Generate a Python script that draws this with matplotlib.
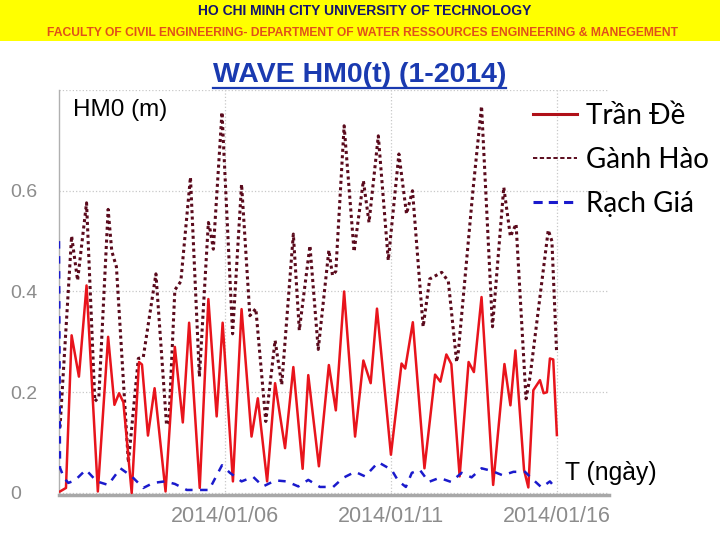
import matplotlib
matplotlib.use('Agg')
import matplotlib.pyplot as plt
import matplotlib.dates as mdates
from matplotlib.lines import Line2D
import pandas as pd

# days since 2014-01-01 00:00, wave height HM0 (m)
trande_day = [0.03, 0.21, 0.38, 0.60, 0.83, 1.17, 1.48, 1.67, 1.81, 1.94,
              2.19, 2.41, 2.50, 2.68, 2.88, 3.21, 3.49, 3.73, 3.92, 4.24,
              4.50, 4.75, 4.93, 5.24, 5.50, 5.80, 5.99, 6.27, 6.51, 6.81,
              7.06, 7.34, 7.51, 7.83, 8.13, 8.34, 8.59, 8.92, 9.17, 9.39,
              9.58, 10.00, 10.32, 10.43, 10.66, 11.01, 11.33, 11.49, 11.67, 11.82,
              12.07, 12.34, 12.50, 12.73, 13.08, 13.42, 13.60, 13.75, 14.01, 14.14,
              14.29, 14.49, 14.60, 14.70, 14.79, 14.89, 15.00]
trande_hm0 = [0.003, 0.01, 0.313, 0.231, 0.412, 0.003, 0.31, 0.175, 0.198, 0.18,
              0.0, 0.26, 0.255, 0.114, 0.208, 0.003, 0.29, 0.14, 0.338, 0.01,
              0.385, 0.152, 0.338, 0.023, 0.365, 0.112, 0.188, 0.023, 0.218, 0.089,
              0.25, 0.048, 0.234, 0.053, 0.254, 0.164, 0.40, 0.112, 0.263, 0.218,
              0.366, 0.076, 0.257, 0.247, 0.339, 0.049, 0.235, 0.221, 0.275, 0.256,
              0.033, 0.26, 0.24, 0.389, 0.016, 0.256, 0.174, 0.283, 0.046, 0.011,
              0.204, 0.224, 0.198, 0.20, 0.267, 0.265, 0.115]

ganhhao_day = [0.03, 0.38, 0.56, 0.83, 1.08, 1.20, 1.48, 1.59, 1.73, 2.09,
               2.39, 2.54, 2.92, 3.24, 3.31, 3.49, 3.67, 3.96, 4.23, 4.50,
               4.56, 4.65, 4.91, 5.23, 5.50, 5.75, 5.93, 6.23, 6.51, 6.71,
               7.06, 7.24, 7.56, 7.81, 8.13, 8.24, 8.34, 8.59, 8.89, 9.17,
               9.34, 9.62, 9.92, 10.24, 10.47, 10.65, 10.97, 11.17, 11.53, 11.73,
               11.98, 12.03, 12.47, 12.73, 13.06, 13.40, 13.60, 13.77, 14.07, 14.19,
               14.74, 14.85, 14.99]
ganhhao_hm0 = [0.13, 0.51, 0.422, 0.576, 0.182, 0.19, 0.563, 0.48, 0.449, 0.06,
               0.267, 0.27, 0.435, 0.135, 0.14, 0.403, 0.42, 0.627, 0.231, 0.537,
               0.52, 0.484, 0.756, 0.316, 0.613, 0.352, 0.366, 0.142, 0.303, 0.215,
               0.514, 0.323, 0.491, 0.285, 0.482, 0.432, 0.44, 0.729, 0.479, 0.62,
               0.537, 0.709, 0.462, 0.673, 0.554, 0.60, 0.33, 0.425, 0.438, 0.42,
               0.26, 0.28, 0.60, 0.768, 0.33, 0.607, 0.509, 0.534, 0.187, 0.23,
               0.522, 0.50, 0.282]

rachgia_day = [0.0, 0.03, 0.15, 0.28, 0.48, 0.81, 1.14, 1.48, 1.85, 2.19,
               2.54, 2.84, 3.19, 3.49, 3.85, 4.25, 4.52, 4.91, 5.15, 5.50,
               5.85, 6.15, 6.52, 6.86, 7.21, 7.51, 7.86, 8.26, 8.56, 8.92,
               9.22, 9.62, 10.02, 10.22, 10.45, 10.63, 10.87, 11.14, 11.46, 11.81,
               12.13, 12.43, 12.73, 13.03, 13.37, 13.69, 14.04, 14.29, 14.54, 14.79,
               14.88]
rachgia_hm0 = [0.50, 0.05, 0.03, 0.02, 0.025, 0.046, 0.023, 0.016, 0.049, 0.033,
               0.01, 0.02, 0.023, 0.018, 0.006, 0.006, 0.006, 0.055, 0.04, 0.023,
               0.032, 0.013, 0.025, 0.023, 0.013, 0.026, 0.012, 0.012, 0.03, 0.042,
               0.033, 0.061, 0.046, 0.024, 0.012, 0.04, 0.046, 0.022, 0.03, 0.022,
               0.04, 0.031, 0.049, 0.044, 0.035, 0.042, 0.042, 0.026, 0.011, 0.023,
               0.016]

start = pd.Timestamp('2014-01-01')
xtick_dates = ['2014-01-06', '2014-01-11', '2014-01-16']
ytick_vals = [0, 0.2, 0.4, 0.6]
ytick_text = ['0', '0.2', '0.4', '0.6']


def to_time(days):
    return start + pd.to_timedelta(days, unit='D')


fig = plt.figure(figsize=(7.2, 5.4), dpi=100)
plt.rcParams['font.family'] = ['Liberation Sans', 'DejaVu Sans']

# yellow header band
fig.patches.append(plt.Rectangle((0, 1 - 41 / 540), 1, 41 / 540, transform=fig.transFigure,
                                 facecolor='#ffff00', edgecolor='none', zorder=0))
fig.text(0.506, 1 - 11 / 540, 'HO CHI MINH CITY UNIVERSITY OF TECHNOLOGY', ha='center',
         va='center', fontsize=10, fontweight='bold', color='#14146e')
fig.text(0.503, 1 - 33 / 540,
         'FACULTY OF CIVIL ENGINEERING- DEPARTMENT OF WATER RESSOURCES ENGINEERING & MANEGEMENT',
         ha='center', va='center', fontsize=8.7, fontweight='bold', color='#e0501a')

ax = fig.add_axes([59 / 720, 45 / 540, 550 / 720, 405 / 540])

ax.plot(to_time(trande_day), trande_hm0, color='#e8141c', lw=1.8, label='Trần Đề', zorder=3,
        solid_joinstyle='round')
ax.plot(to_time(ganhhao_day), ganhhao_hm0, color='#5a0a1c', lw=2.2, ls=(0, (1.0, 1.1)),
        label='Gành Hào', zorder=2)
ax.plot(to_time(rachgia_day), rachgia_hm0, color='#1a1acc', lw=1.8, ls=(0, (3, 3)),
        label='Rạch Giá', zorder=4)

ax.set_xlim(start, start + pd.Timedelta(days=16.57))
ax.set_ylim(-0.004, 0.8)
ax.set_xticks(pd.to_datetime(xtick_dates))
ax.xaxis.set_major_formatter(mdates.DateFormatter('%Y/%m/%d'))
ax.set_yticks(ytick_vals + [0.8])
ax.set_yticklabels(ytick_text + [''])
ax.tick_params(length=0, colors='#8c8c8c')
ax.tick_params(axis='y', pad=35, labelsize=14)
for lab in ax.get_yticklabels():
    lab.set_horizontalalignment('left')
ax.tick_params(axis='x', pad=8, labelsize=15.5)
ax.grid(True, ls=':', color='#c8c8c8', lw=0.9)

for s in ['top', 'right']:
    ax.spines[s].set_visible(False)
ax.spines['left'].set_color('#b0b0b0')
ax.spines['left'].set_linewidth(1.0)
ax.spines['bottom'].set_color('#a8a8a8')
ax.spines['bottom'].set_linewidth(2.5)

fig.text(73 / 720, 1 - 110 / 540, 'HM0 (m)', ha='left', va='center', fontsize=17.5)
fig.text(565 / 720, 1 - 473 / 540, 'T (ngày)', ha='left', va='center', fontsize=17.8)

# title with underline
title = fig.text(0.499, 1 - 75 / 540, 'WAVE HM0(t) (1-2014)', ha='center', va='center',
                 fontsize=20.5, fontweight='bold', color='#1a3ab0')
fig.canvas.draw()
bb = title.get_window_extent().transformed(fig.transFigure.inverted())
fig.add_artist(Line2D([bb.x0, bb.x1], [1 - 88 / 540] * 2, transform=fig.transFigure,
                      color='#1a3ab0', lw=1.6))

# legend
handles = [Line2D([], [], color='#b01018', lw=2.2),
           Line2D([], [], color='#5a0a1c', lw=1.4, ls=(0, (2.2, 1.3))),
           Line2D([], [], color='#1a1acc', lw=2.2, ls=(0, (3, 2)))]
fig.legend(handles, ['Trần Đề', 'Gành Hào', 'Rạch Giá'], loc='upper left',
           bbox_to_anchor=(508 / 720, 1 - 78 / 540), frameon=False,
           prop={'family': ['Lato', 'DejaVu Sans'], 'size': 20},
           handlelength=1.6, handletextpad=0.3, labelspacing=0.65)

fig.savefig('out.png', dpi=100)
